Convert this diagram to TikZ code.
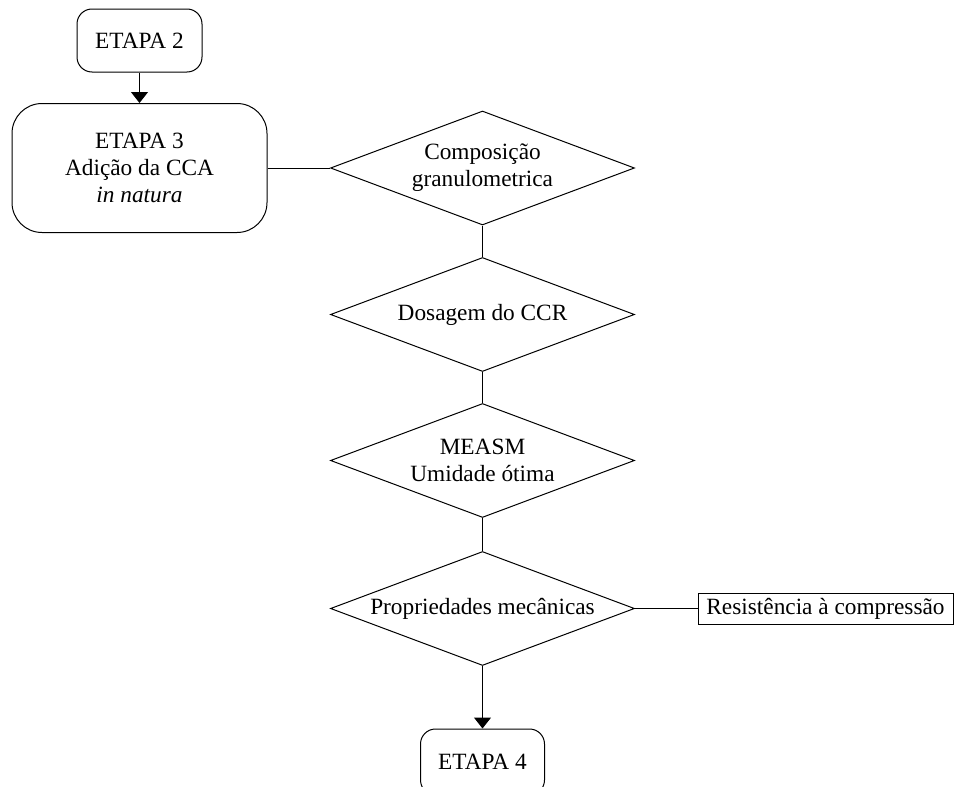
\documentclass[tikz,border=0pt]{standalone}
\usepackage{fontspec}
\setmainfont{Liberation Serif}
\usetikzlibrary{shapes.geometric,arrows.meta}
\begin{document}
\begin{tikzpicture}[x=1pt,y=-1pt,
  every node/.style={font=\fontsize{23.3}{27}\selectfont, inner sep=0pt, line width=1pt},
  etapa/.style={draw, rectangle, rounded corners=15pt, align=center},
  decisao/.style={draw, diamond, shape aspect=2.67, minimum width=304pt, minimum height=114pt, align=center},
  caixa/.style={draw, rectangle},
  liga/.style={line width=1pt},
  seta/.style={line width=1pt, -{Triangle[width=17pt,length=11pt]}}
]
\useasboundingbox (0,0) rectangle (954,787);
\clip (0,0) rectangle (954,787);

\node[etapa, minimum width=125pt, minimum height=63pt] (e2) at (139.5,40.5) {ETAPA 2};
\node[etapa, rounded corners=30pt, minimum width=255pt, minimum height=129pt] (e3) at (139.5,168) {ETAPA 3\\Adição da CCA\\\textit{in natura}};
\node[decisao] (d1) at (482.5,168) {Composição\\granulometrica};
\node[decisao] (d2) at (482.5,314.5) {Dosagem do CCR};
\node[decisao] (d3) at (482.5,460.5) {MEASM\\Umidade ótima};
\node[decisao] (d4) at (482.5,608.5) {Propriedades mecânicas};
\node[caixa, minimum width=255pt, minimum height=31pt] (r) at (825.5,608.5) {Resistência à compressão};
\node[etapa, minimum width=124pt, minimum height=66pt] (e4) at (482.5,762) {ETAPA 4};

\draw[seta] (e2) -- (e3);
\draw[liga] (e3.east) -- (d1.west);
\draw[liga] (d1.south) -- (d2.north);
\draw[liga] (d2.south) -- (d3.north);
\draw[liga] (d3.south) -- (d4.north);
\draw[liga] (d4.east) -- (r.west);
\draw[seta] (d4.south) -- (e4.north);
\end{tikzpicture}
\end{document}
